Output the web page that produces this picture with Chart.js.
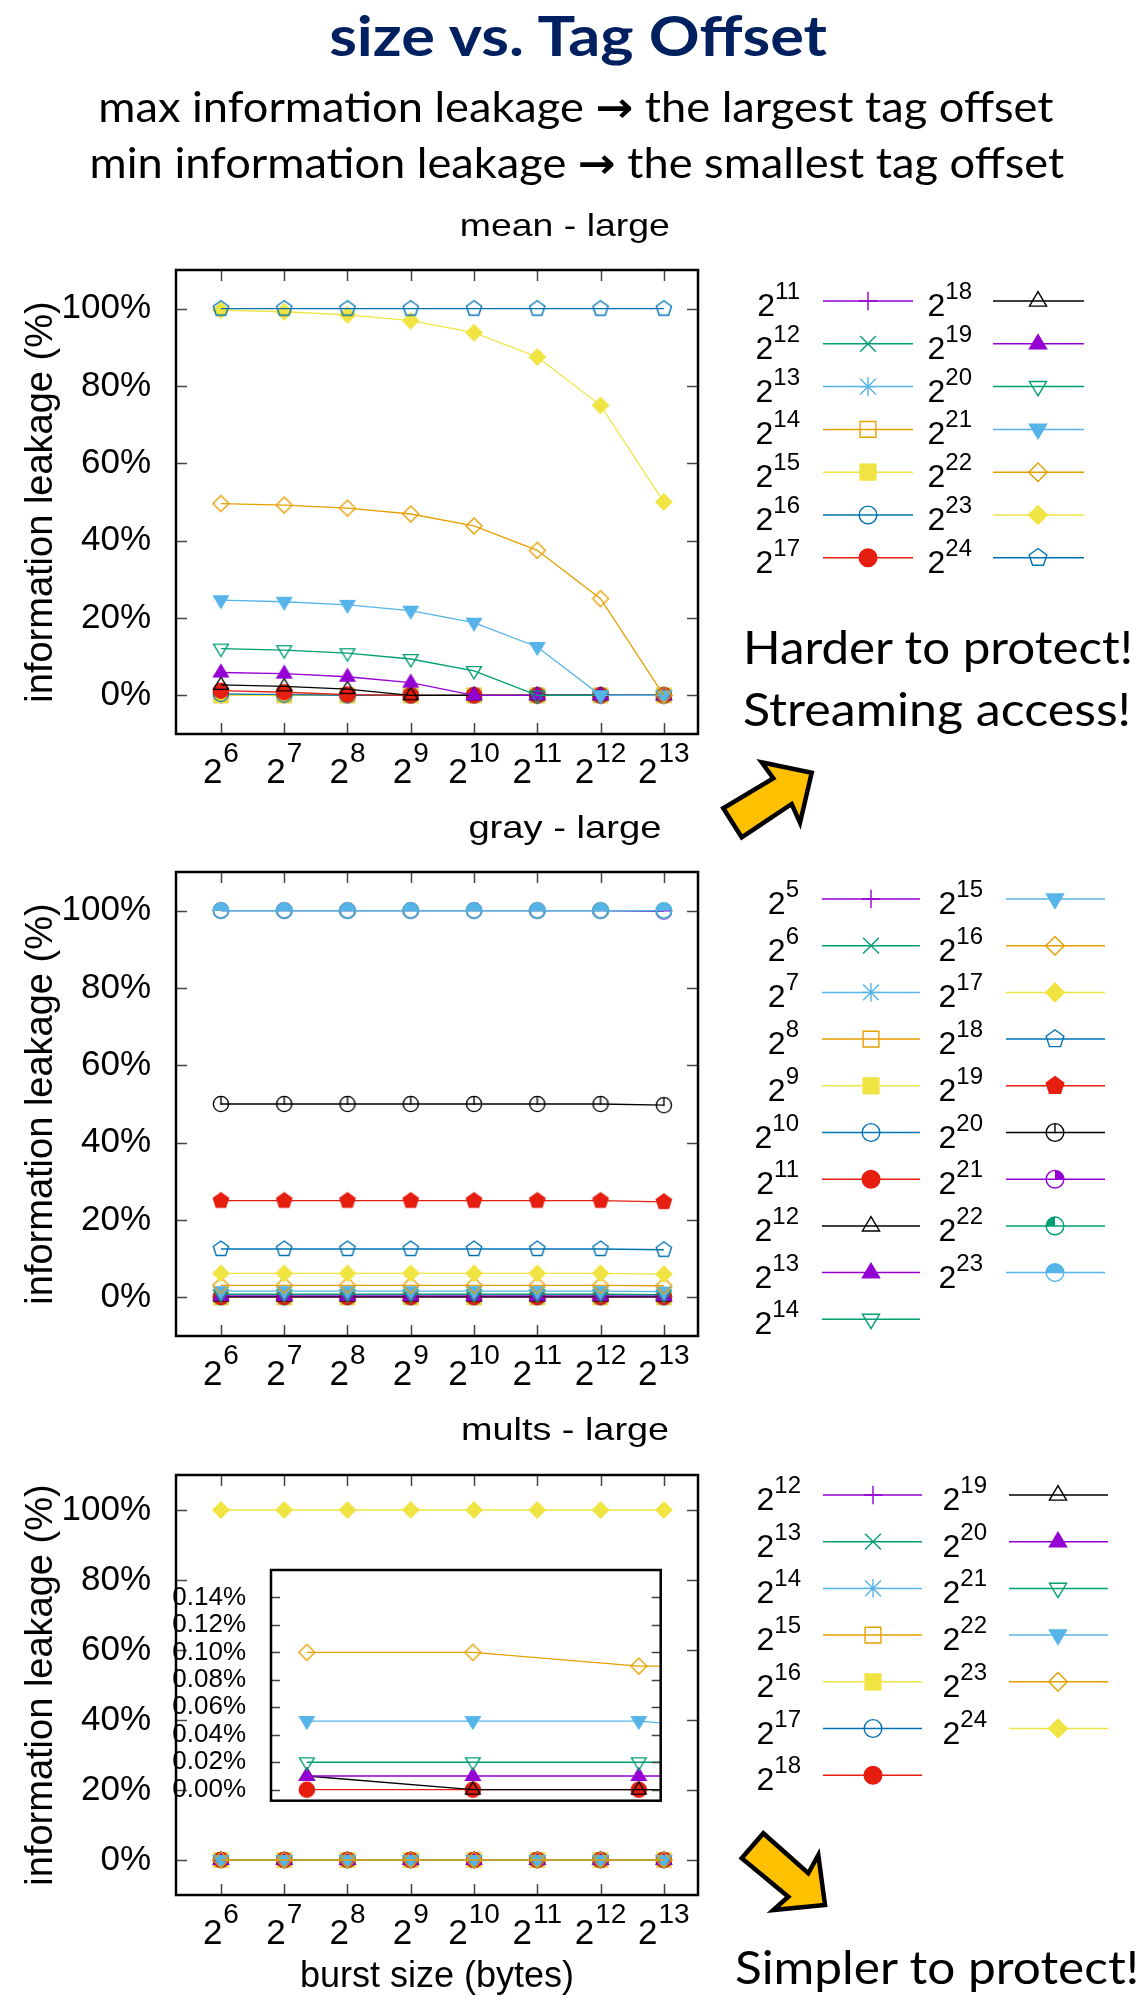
<!DOCTYPE html>
<html>
<head>
<meta charset="utf-8">
<script src="https://cdn.jsdelivr.net/npm/chart.js@4.4.1/dist/chart.umd.min.js"></script>
<style>
  html, body { margin: 0; padding: 0; background: #fff; }
  #page { position: relative; width: 1136px; height: 2000px; overflow: hidden; background: #fff; }
  #page canvas { position: absolute; }
  .txt { position: absolute; white-space: nowrap; line-height: 1; color: #000; }
  .txt sup { font-size: 24px; vertical-align: baseline; position: relative; top: -17px; line-height: 0; }
  .probe { display: inline-block; width: 0; height: 0; vertical-align: baseline; }
  .arr { font-family: "DejaVu Sans", sans-serif; font-weight: bold; }
</style>
</head>
<body>
<div id="page">
  <canvas id="meanChart" width="720" height="560" style="left:0;top:240px"></canvas>
  <canvas id="grayChart" width="720" height="560" style="left:0;top:840px"></canvas>
  <canvas id="multsChart" width="720" height="560" style="left:0;top:1440px"></canvas>
  <canvas id="insetChart" width="500" height="250" style="left:170px;top:1560px"></canvas>
  <svg width="1136" height="2000" style="position:absolute;left:0;top:0">
    <polygon points="723.3,808.3 773.3,778.3 761.7,762.3 811.7,772.7 800,822.7 791.7,804 741.7,837.3"
             fill="#FFC000" stroke="#000" stroke-width="4.5" stroke-linejoin="miter"/>
    <polygon points="763.3,1833.3 808.3,1873.3 818.3,1855 825,1905 773.3,1910 788.3,1896.7 741.7,1858.3"
             fill="#FFC000" stroke="#000" stroke-width="4.5" stroke-linejoin="miter"/>
  </svg>
</div>
<script>
// ---------------- data ----------------
// burst size exponents on the x axis (2^6 .. 2^13 bytes)
const burstExp = [6, 7, 8, 9, 10, 11, 12, 13];
const yTickVals = [0, 20, 40, 60, 80, 100];

// mean - large : tag offset 2^11 .. 2^24, information leakage (%)
const meanOffsets = [11, 12, 13, 14, 15, 16, 17, 18, 19, 20, 21, 22, 23, 24];
const mean11 = [0, 0, 0, 0, 0, 0, 0, 0];
const mean12 = [0, 0, 0, 0, 0, 0, 0, 0];
const mean13 = [0, 0, 0, 0, 0, 0, 0, 0];
const mean14 = [0, 0, 0, 0, 0, 0, 0, 0];
const mean15 = [0, 0, 0, 0, 0, 0, 0, 0];
const mean16 = [0.4, 0.2, 0, 0, 0, 0, 0, 0];
const mean17 = [1.2, 0.8, 0.2, 0, 0, 0, 0, 0];
const mean18 = [2.7, 2.3, 1.6, 0, 0, 0, 0, 0];
const mean19 = [5.9, 5.6, 4.8, 3.3, 0, 0, 0, 0];
const mean20 = [12.1, 11.7, 10.9, 9.4, 6.3, 0, 0, 0];
const mean21 = [24.6, 24.2, 23.4, 21.9, 18.8, 12.5, 0, 0];
const mean22 = [49.6, 49.2, 48.4, 46.9, 43.8, 37.5, 25, 0];
const mean23 = [99.6, 99.2, 98.4, 96.9, 93.8, 87.5, 75, 50];
const mean24 = [100, 100, 100, 100, 100, 100, 100, 100];
const meanSeries = [mean11, mean12, mean13, mean14, mean15, mean16, mean17,
                    mean18, mean19, mean20, mean21, mean22, mean23, mean24];

// gray - large : tag offset 2^5 .. 2^23
const grayOffsets = [5, 6, 7, 8, 9, 10, 11, 12, 13, 14, 15, 16, 17, 18, 19, 20, 21, 22, 23];
const gray5  = [0, 0, 0, 0, 0, 0, 0, 0];
const gray6  = [0, 0, 0, 0, 0, 0, 0, 0];
const gray7  = [0, 0, 0, 0, 0, 0, 0, 0];
const gray8  = [0, 0, 0, 0, 0, 0, 0, 0];
const gray9  = [0, 0, 0, 0, 0, 0, 0, 0];
const gray10 = [0.05, 0.05, 0.05, 0.05, 0.05, 0.05, 0.05, 0.05];
const gray11 = [0.1, 0.1, 0.1, 0.1, 0.1, 0.1, 0.1, 0.1];
const gray12 = [0.2, 0.2, 0.2, 0.2, 0.2, 0.2, 0.2, 0.2];
const gray13 = [0.4, 0.4, 0.4, 0.4, 0.4, 0.4, 0.4, 0.4];
const gray14 = [0.8, 0.8, 0.8, 0.8, 0.8, 0.8, 0.8, 0.7];
const gray15 = [1.6, 1.6, 1.6, 1.6, 1.6, 1.6, 1.6, 1.5];
const gray16 = [3.1, 3.1, 3.1, 3.1, 3.1, 3.1, 3.1, 3.0];
const gray17 = [6.2, 6.2, 6.2, 6.2, 6.2, 6.2, 6.2, 6.0];
const gray18 = [12.5, 12.5, 12.5, 12.5, 12.5, 12.5, 12.5, 12.3];
const gray19 = [25, 25, 25, 25, 25, 25, 25, 24.7];
const gray20 = [50, 50, 50, 50, 50, 50, 50, 49.7];
const gray21 = [100, 100, 100, 100, 100, 100, 100, 99.8];
const gray22 = [100, 100, 100, 100, 100, 100, 100, 100];
const gray23 = [100, 100, 100, 100, 100, 100, 100, 100];
const graySeries = [gray5, gray6, gray7, gray8, gray9, gray10, gray11, gray12, gray13, gray14,
                    gray15, gray16, gray17, gray18, gray19, gray20, gray21, gray22, gray23];

// mults - large : tag offset 2^12 .. 2^24
const multsOffsets = [12, 13, 14, 15, 16, 17, 18, 19, 20, 21, 22, 23, 24];
const mults12 = [0, 0, 0, 0, 0, 0, 0, 0];
const mults13 = [0, 0, 0, 0, 0, 0, 0, 0];
const mults14 = [0, 0, 0, 0, 0, 0, 0, 0];
const mults15 = [0, 0, 0, 0, 0, 0, 0, 0];
const mults16 = [0, 0, 0, 0, 0, 0, 0, 0];
const mults17 = [0, 0, 0, 0, 0, 0, 0, 0];
const mults18 = [0, 0, 0, 0, 0, 0, 0, 0];
const mults19 = [0, 0, 0, 0, 0, 0, 0, 0];
const mults20 = [0, 0, 0, 0, 0, 0, 0, 0];
const mults21 = [0, 0, 0, 0, 0, 0, 0, 0];
const mults22 = [0, 0, 0, 0, 0, 0, 0, 0];
const mults23 = [0, 0, 0, 0, 0, 0, 0, 0];
const mults24 = [100, 100, 100, 100, 100, 100, 100, 100];
const multsSeries = [mults12, mults13, mults14, mults15, mults16, mults17, mults18,
                     mults19, mults20, mults21, mults22, mults23, mults24];

// zoomed inset of mults (small values, %)
const insetExp = [6, 7, 8, 9];
const insetYTicks = [0, 0.02, 0.04, 0.06, 0.08, 0.10, 0.12, 0.14];
const insetOffsets = [18, 19, 20, 21, 22, 23];
const inset18 = [0, 0, 0, 0];
const inset19 = [0.01, 0, 0, 0];
const inset20 = [0.01, 0.01, 0.01, 0.01];
const inset21 = [0.02, 0.02, 0.02, 0.02];
const inset22 = [0.05, 0.05, 0.05, 0.04];
const inset23 = [0.10, 0.10, 0.09, 0.09];
const insetSeries = [inset18, inset19, inset20, inset21, inset22, inset23];

// ---------------- styles ----------------
const COLORS = ['#9400D3', '#009E73', '#56B4E9', '#E69F00', '#F0E442', '#0072B2', '#E51E10', '#000000'];
const SHAPES = ['plus', 'cross', 'star', 'sq', 'sqF', 'circ', 'circF', 'triU', 'triUF', 'triD', 'triDF',
                'dia', 'diaF', 'pent', 'pentF', 'circV', 'circQR', 'circQL', 'circH'];
const FONT = '"Liberation Sans", Arial, sans-serif';
Chart.defaults.font.family = FONT;
Chart.defaults.color = '#000';

const page = document.getElementById('page');

function drawMarker(ctx, shape, color, x, y, r) {
  ctx.save();
  ctx.strokeStyle = color;
  ctx.fillStyle = color;
  ctx.lineWidth = 1.4;
  const poly = pts => {
    ctx.beginPath();
    pts.forEach(([px, py], k) => k ? ctx.lineTo(x + px, y + py) : ctx.moveTo(x + px, y + py));
    ctx.closePath();
  };
  const filled = /F$/.test(shape);
  const base = shape.replace(/F$/, '');
  let closed = true;
  if (base === 'plus' || base === 'cross' || base === 'star') {
    closed = false;
    ctx.beginPath();
    if (base !== 'cross') {
      ctx.moveTo(x - r, y); ctx.lineTo(x + r, y);
      ctx.moveTo(x, y - r); ctx.lineTo(x, y + r);
    }
    if (base !== 'plus') {
      const d = r * 0.85;
      ctx.moveTo(x - d, y - d); ctx.lineTo(x + d, y + d);
      ctx.moveTo(x - d, y + d); ctx.lineTo(x + d, y - d);
    }
    ctx.stroke();
  } else if (base === 'sq') {
    const s = r * 0.85;
    ctx.beginPath(); ctx.rect(x - s, y - s, 2 * s, 2 * s);
  } else if (base === 'triU') {
    poly([[0, -r], [r * 0.92, r * 0.55], [-r * 0.92, r * 0.55]]);
  } else if (base === 'triD') {
    poly([[0, r], [r * 0.92, -r * 0.55], [-r * 0.92, -r * 0.55]]);
  } else if (base === 'dia') {
    poly([[0, -r], [r, 0], [0, r], [-r, 0]]);
  } else if (base === 'pent') {
    const pts = [];
    for (let k = 0; k < 5; k++) {
      const a = -Math.PI / 2 + k * 2 * Math.PI / 5;
      pts.push([r * Math.cos(a), r * Math.sin(a)]);
    }
    poly(pts);
  } else {
    // circles and part-filled circles
    const cr = r * 0.95;
    if (base === 'circQR' || base === 'circQL' || base === 'circH') {
      ctx.beginPath();
      ctx.moveTo(x, y);
      if (base === 'circQR') ctx.arc(x, y, cr, -Math.PI / 2, 0);
      if (base === 'circQL') ctx.arc(x, y, cr, Math.PI, Math.PI * 1.5);
      if (base === 'circH') ctx.arc(x, y, cr, Math.PI, Math.PI * 2);
      ctx.closePath();
      ctx.fill();
    }
    if (base === 'circV') {
      ctx.beginPath(); ctx.moveTo(x, y - cr); ctx.lineTo(x, y + 1); ctx.stroke();
    }
    ctx.beginPath(); ctx.arc(x, y, cr, 0, Math.PI * 2);
  }
  if (closed) {
    if (filled) ctx.fill();
    ctx.stroke();
  }
  ctx.restore();
}

function markerImage(shape, color, r) {
  const c = document.createElement('canvas');
  const size = Math.ceil(r * 2 + 6);
  c.width = size; c.height = size;
  drawMarker(c.getContext('2d'), shape, color, size / 2, size / 2, r);
  return c;
}

function makeSets(offsets, series, xs, first, r) {
  return offsets.map((off, k) => {
    const i = off - first;
    const col = COLORS[i % 8];
    return {
      label: '2^' + off,
      data: xs.map((x, j) => ({ x: x, y: series[k][j] })),
      borderColor: col,
      backgroundColor: col,
      borderWidth: 1.3,
      pointStyle: markerImage(SHAPES[i], col, r),
      pointRadius: r,
      pointHoverRadius: r,
      order: -i
    };
  });
}

// gnuplot-like frame: box, inward tick marks, 2^n tick labels
function framePlugin(o) {
  return {
    id: 'frame',
    afterDraw(chart) {
      const { ctx, chartArea: a, scales } = chart;
      ctx.save();
      ctx.strokeStyle = '#444';
      ctx.lineWidth = 1.5;
      ctx.beginPath();
      o.yTicks.forEach(v => {
        const y = Math.round(scales.y.getPixelForValue(v)) + 0.5;
        ctx.moveTo(a.left, y); ctx.lineTo(a.left + o.len, y);
        ctx.moveTo(a.right - o.len, y); ctx.lineTo(a.right, y);
      });
      (o.xTicks || []).forEach(v => {
        const x = Math.round(scales.x.getPixelForValue(v)) + 0.5;
        ctx.moveTo(x, a.bottom); ctx.lineTo(x, a.bottom - o.len);
        ctx.moveTo(x, a.top); ctx.lineTo(x, a.top + o.len);
      });
      ctx.stroke();
      ctx.strokeStyle = '#000';
      ctx.lineWidth = 2.5;
      ctx.strokeRect(a.left, a.top, a.right - a.left, a.bottom - a.top);
      if (o.xTicks) {
        ctx.fillStyle = '#000';
        ctx.textBaseline = 'alphabetic';
        ctx.textAlign = 'left';
        o.xTicks.forEach(v => {
          const x = scales.x.getPixelForValue(v);
          ctx.font = '35px ' + FONT;
          const w1 = ctx.measureText('2').width;
          ctx.font = '28px ' + FONT;
          const w2 = ctx.measureText(String(v)).width;
          const x0 = x - (w1 + w2 + 1) / 2;
          ctx.font = '35px ' + FONT;
          ctx.fillText('2', x0, a.bottom + 49);
          ctx.font = '28px ' + FONT;
          ctx.fillText(String(v), x0 + w1 + 1, a.bottom + 28);
        });
      }
      ctx.restore();
    }
  };
}

// keep the plot box exactly where the layout asks for it
function fixPadding(s) {
  s.paddingTop = 0;
  s.paddingBottom = 0;
}

function mainChart(id, sets, c) {
  return new Chart(document.getElementById(id), {
    type: 'line',
    data: { datasets: sets },
    options: {
      responsive: false,
      animation: false,
      events: [],
      layout: { padding: { top: c.padTop, right: 22, left: 0, bottom: 0 } },
      plugins: { legend: { display: false }, tooltip: { enabled: false } },
      scales: {
        x: {
          type: 'linear', min: 5.29, max: 13.54,
          grid: { display: false }, border: { display: false },
          ticks: { display: false },
          title: c.xTitle ? { display: true, text: c.xTitle, color: '#000',
                              font: { size: 36 }, padding: { top: 0, bottom: 1 } } : { display: false },
          afterFit: s => { s.height = c.xHeight; s.paddingLeft = 0; s.paddingRight = 0; }
        },
        y: {
          type: 'linear', min: -10, max: 110,
          grid: { display: false }, border: { display: false },
          ticks: { font: { size: 35 }, color: '#000', padding: 17, autoSkip: false,
                   callback: v => v + '%' },
          afterBuildTicks: s => { s.ticks = yTickVals.map(v => ({ value: v })); },
          title: { display: true, text: 'information leakage (%)', color: '#000',
                   font: { size: 38 }, padding: { top: 19, bottom: 0 } },
          afterFit: s => { s.width = 176; fixPadding(s); }
        }
      }
    },
    plugins: [framePlugin({ yTicks: yTickVals, xTicks: burstExp, len: 11 })]
  });
}

mainChart('meanChart', makeSets(meanOffsets, meanSeries, burstExp, 11, 8), { padTop: 30, xHeight: 66 });
mainChart('grayChart', makeSets(grayOffsets, graySeries, burstExp, 5, 8), { padTop: 32, xHeight: 64 });
mainChart('multsChart', makeSets(multsOffsets, multsSeries, burstExp, 12, 8),
          { padTop: 35, xHeight: 105, xTitle: 'burst size (bytes)' });

new Chart(document.getElementById('insetChart'), {
  type: 'line',
  data: { datasets: makeSets(insetOffsets, insetSeries, insetExp, 12, 8) },
  options: {
    responsive: false,
    animation: false,
    events: [],
    layout: { padding: { top: 10, right: 7, left: 0, bottom: 8 } },
    plugins: { legend: { display: false }, tooltip: { enabled: false } },
    scales: {
      x: { type: 'linear', min: 5.784, max: 8.132, display: false },
      y: {
        type: 'linear', min: -0.008, max: 0.16,
        grid: { display: false }, border: { display: false },
        ticks: { font: { size: 26 }, color: '#000', padding: 17, autoSkip: false,
                 callback: v => v.toFixed(2) + '%' },
        afterBuildTicks: s => { s.ticks = insetYTicks.map(v => ({ value: v })); },
        afterFit: s => { s.width = 101; fixPadding(s); }
      }
    }
  },
  plugins: [framePlugin({ yTicks: insetYTicks, xTicks: null, len: 9 })]
});

// ---------------- text ----------------
function placeText(html, o) {
  const el = document.createElement('div');
  el.className = 'txt';
  el.style.font = o.font;
  if (o.color) el.style.color = o.color;
  el.innerHTML = html;
  page.appendChild(el);
  const probe = document.createElement('span');
  probe.className = 'probe';
  el.appendChild(probe);
  const w = el.getBoundingClientRect().width;
  el.style.top = (o.base - probe.offsetTop) + 'px';
  let origin = 'left';
  if (o.cx !== undefined) { el.style.left = (o.cx - w / 2) + 'px'; origin = 'center'; }
  else if (o.right !== undefined) { el.style.left = (o.right - w) + 'px'; origin = 'right'; }
  else el.style.left = o.left + 'px';
  if (o.w) {
    el.style.transformOrigin = origin + ' top';
    el.style.transform = 'scaleX(' + (o.w / w).toFixed(3) + ')';
  }
  return el;
}

const CAL = 'Lato, "Open Sans", sans-serif';
placeText('size vs. Tag Offset', { font: 'bold 56px ' + CAL, color: '#002060', cx: 578, base: 56, w: 498 });
placeText('max information leakage <span class="arr">\u2192</span> the largest tag offset',
          { font: '42px ' + CAL, cx: 576, base: 122, w: 955 });
placeText('min information leakage <span class="arr">\u2192</span> the smallest tag offset',
          { font: '42px ' + CAL, cx: 577, base: 178, w: 975 });
placeText('mean - large', { font: '32px ' + FONT, cx: 565, base: 236, w: 210 });
placeText('gray - large', { font: '32px ' + FONT, cx: 565, base: 838, w: 193 });
placeText('mults - large', { font: '32px ' + FONT, cx: 565, base: 1440, w: 208 });
placeText('Harder to protect!', { font: '46px ' + CAL, left: 743, base: 664, w: 390 });
placeText('Streaming access!', { font: '46px ' + CAL, left: 743, base: 726, w: 388 });
placeText('Simpler to protect!', { font: '46px ' + CAL, left: 735, base: 1984, w: 404 });

// ---------------- legends ----------------
function buildLegend(offsets, first, L) {
  const cv = document.createElement('canvas');
  cv.width = 416;
  cv.height = L.height;
  cv.style.left = '720px';
  cv.style.top = L.top + 'px';
  page.appendChild(cv);
  const ctx = cv.getContext('2d');
  offsets.forEach((off, k) => {
    const i = off - first;
    const colIdx = k < L.perCol ? 0 : 1;
    const row = k - colIdx * L.perCol;
    const c = L.cols[colIdx];
    const y = L.y0 + row * L.dy;
    const col = COLORS[i % 8];
    ctx.strokeStyle = col;
    ctx.lineWidth = 1.5;
    ctx.beginPath();
    ctx.moveTo(c.l0 - 720, y - L.top);
    ctx.lineTo(c.l1 - 720, y - L.top);
    ctx.stroke();
    drawMarker(ctx, SHAPES[i], col, c.m - 720, y - L.top, 9.3);
    placeText('2<sup>' + off + '</sup>', { font: '32px ' + FONT, right: c.lab, base: y + 15 });
  });
}

buildLegend(meanOffsets, 11, {
  top: 270, height: 320, perCol: 7, y0: 301, dy: 42.8,
  cols: [{ lab: 800, l0: 823, l1: 913, m: 868 }, { lab: 972, l0: 993, l1: 1084, m: 1038 }]
});
buildLegend(grayOffsets, 5, {
  top: 870, height: 470, perCol: 10, y0: 899, dy: 46.7,
  cols: [{ lab: 799, l0: 822, l1: 920, m: 871 }, { lab: 983, l0: 1006, l1: 1105, m: 1055 }]
});
buildLegend(multsOffsets, 12, {
  top: 1465, height: 330, perCol: 7, y0: 1495, dy: 46.7,
  cols: [{ lab: 801, l0: 823, l1: 922, m: 873 }, { lab: 987, l0: 1009, l1: 1108, m: 1058 }]
});
</script>
</body>
</html>
